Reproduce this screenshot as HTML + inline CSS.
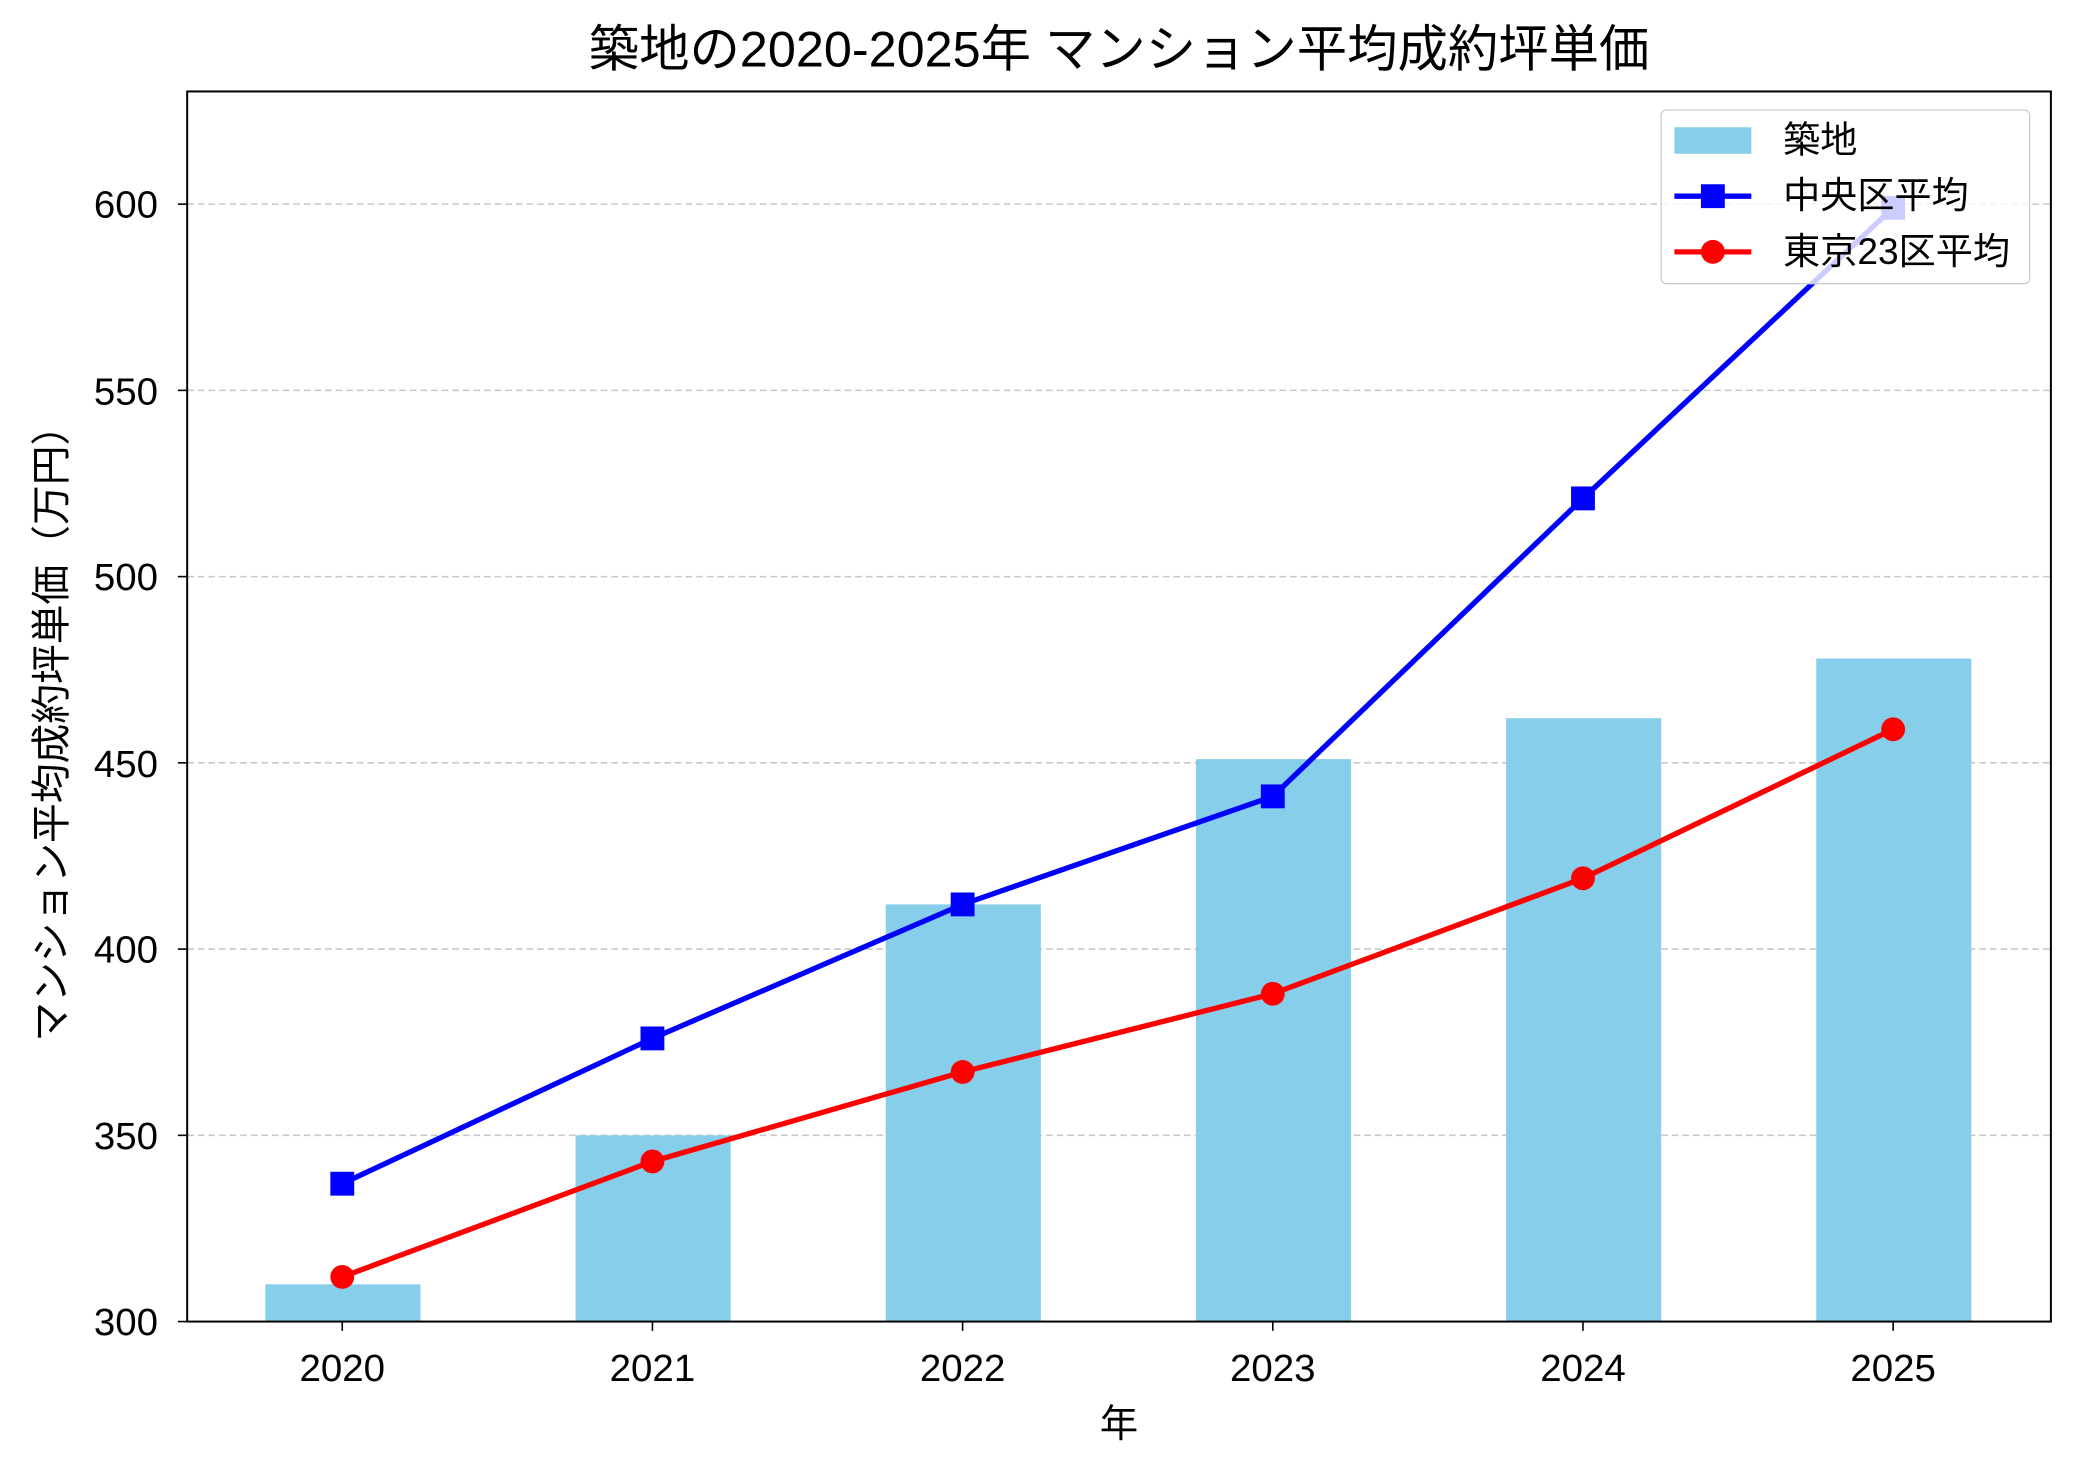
<!DOCTYPE html>
<html><head><meta charset="utf-8"><style>html,body{margin:0;padding:0;background:#fff}</style></head>
<body>
<svg width="2079" height="1474" viewBox="0 0 1568 1112" xmlns="http://www.w3.org/2000/svg" font-family="'Liberation Sans','Noto Sans CJK JP',sans-serif">
<rect width="1568" height="1112" fill="#fff"/>
<g stroke="#c8c8c8" stroke-dasharray="5,3" stroke-width="1.2">
<line x1="141" x2="1547" y1="856.5" y2="856.5"/><line x1="141" x2="1547" y1="716" y2="716"/><line x1="141" x2="1547" y1="575.5" y2="575.5"/><line x1="141" x2="1547" y1="435" y2="435"/><line x1="141" x2="1547" y1="294.5" y2="294.5"/><line x1="141" x2="1547" y1="154" y2="154"/>
</g>
<g fill="#87ceeb">
<rect x="200" y="968.9" width="117" height="28.1"/>
<rect x="434" y="856.5" width="117" height="140.5"/>
<rect x="668" y="682.3" width="117" height="314.7"/>
<rect x="902" y="572.7" width="117" height="424.3"/>
<rect x="1136" y="541.8" width="117" height="455.2"/>
<rect x="1370" y="496.8" width="117" height="500.2"/>
</g>
<polyline fill="none" stroke="#0000ff" stroke-width="4" points="258,893 492,783.4 726,682.3 960,600.8 1194,376 1428,156.8"/>
<g fill="#0000ff"><rect x="249" y="884" width="18" height="18"/><rect x="483" y="774.4" width="18" height="18"/><rect x="717" y="673.3" width="18" height="18"/><rect x="951" y="591.8" width="18" height="18"/><rect x="1185" y="367" width="18" height="18"/><rect x="1419" y="147.8" width="18" height="18"/></g>
<polyline fill="none" stroke="#ff0000" stroke-width="4" points="258,963.3 492,876.2 726,808.7 960,749.7 1194,662.6 1428,550.2"/>
<g fill="#ff0000"><circle cx="258" cy="963.3" r="9"/><circle cx="492" cy="876.2" r="9"/><circle cx="726" cy="808.7" r="9"/><circle cx="960" cy="749.7" r="9"/><circle cx="1194" cy="662.6" r="9"/><circle cx="1428" cy="550.2" r="9"/></g>
<rect x="141" y="69" width="1406" height="928" fill="none" stroke="#000" stroke-width="1.5"/>
<g stroke="#000" stroke-width="1.2">
<line x1="258" x2="258" y1="997" y2="1004"/><line x1="492" x2="492" y1="997" y2="1004"/><line x1="726" x2="726" y1="997" y2="1004"/><line x1="960" x2="960" y1="997" y2="1004"/><line x1="1194" x2="1194" y1="997" y2="1004"/><line x1="1428" x2="1428" y1="997" y2="1004"/>
<line x1="134" x2="141" y1="997" y2="997"/><line x1="134" x2="141" y1="856.5" y2="856.5"/><line x1="134" x2="141" y1="716" y2="716"/><line x1="134" x2="141" y1="575.5" y2="575.5"/><line x1="134" x2="141" y1="435" y2="435"/><line x1="134" x2="141" y1="294.5" y2="294.5"/><line x1="134" x2="141" y1="154" y2="154"/>
</g>
<g font-size="29" text-anchor="middle" fill="#000">
<text x="258" y="1042">2020</text><text x="492" y="1042">2021</text><text x="726" y="1042">2022</text><text x="960" y="1042">2023</text><text x="1194" y="1042">2024</text><text x="1428" y="1042">2025</text>
</g>
<g font-size="29" text-anchor="end" fill="#000">
<text x="119" y="1007">300</text><text x="119" y="867">350</text><text x="119" y="726">400</text><text x="119" y="586">450</text><text x="119" y="445">500</text><text x="119" y="305">550</text><text x="119" y="164">600</text>
</g>
<text x="844" y="1084" font-size="29" text-anchor="middle">年</text>
<text transform="translate(49,546) rotate(-90)" font-size="30" text-anchor="middle">マンション平均成約坪単価（万円）</text>
<text x="844" y="50" font-size="38" text-anchor="middle">築地の2020-2025年 マンション平均成約坪単価</text>
<rect x="1253" y="83" width="278" height="131" rx="4" fill="#fff" fill-opacity="0.8" stroke="#ccc"/>
<rect x="1263" y="96" width="58" height="20" fill="#87ceeb"/>
<line x1="1263" x2="1321" y1="148" y2="148" stroke="#0000ff" stroke-width="4"/><rect x="1283" y="139" width="18" height="18" fill="#0000ff"/>
<line x1="1263" x2="1321" y1="190" y2="190" stroke="#ff0000" stroke-width="4"/><circle cx="1292" cy="190" r="9" fill="#ff0000"/>
<g font-size="28"><text x="1345" y="115">築地</text><text x="1345" y="157">中央区平均</text><text x="1345" y="199">東京23区平均</text></g>
</svg>
</body></html>
